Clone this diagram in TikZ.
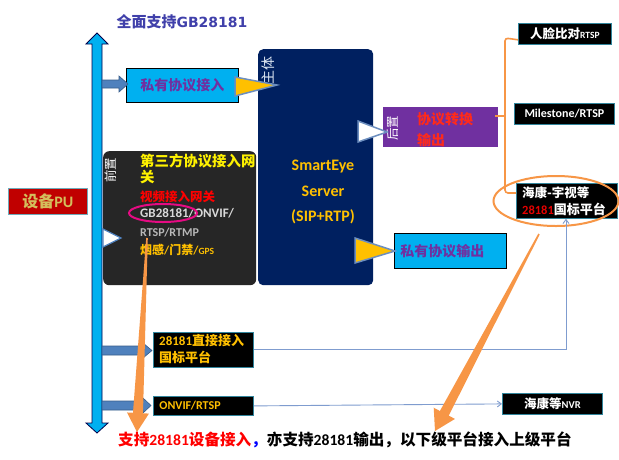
\documentclass[tikz,border=0pt]{standalone}
\usepackage{fontspec}
\setmainfont{Carlito}
\newfontfamily\cjk{Noto Sans CJK SC}
\newfontfamily\dvs{DejaVu Sans}
\usetikzlibrary{calc,arrows.meta}
\newcommand\zh[1]{{\cjk #1}}
\newcommand\fs[1]{\fontsize{#1}{#1}\selectfont}
\definecolor{cyanb}{HTML}{00B0F0}
\definecolor{navyb}{HTML}{002060}
\definecolor{purpb}{HTML}{7030A0}
\definecolor{goldy}{HTML}{FFC000}
\definecolor{dkg}{HTML}{262626}
\definecolor{pured}{HTML}{C00000}
\definecolor{pugold}{HTML}{D4BE5C}
\definecolor{tealb}{HTML}{31859C}
\definecolor{steel}{HTML}{4F81BD}
\definecolor{steeld}{HTML}{385D8A}
\definecolor{orng}{HTML}{F79646}
\definecolor{linec}{HTML}{7F9CCF}
\definecolor{gblue}{HTML}{6C8EBF}
\definecolor{titlec}{HTML}{4040AA}
\definecolor{ltblue}{HTML}{DBE5F1}
\definecolor{redt}{HTML}{FF2A1A}
\definecolor{ltgray}{HTML}{D9D9D9}
\begin{document}
\begin{tikzpicture}[x=1pt,y=-1pt,font=\bfseries,
  cbox/.style={draw=black,line width=0.8,fill=cyanb,anchor=north west,inner sep=0,text=purpb,font=\bfseries\cjk\fs{14}},
  kbox/.style={draw=tealb,line width=0.8,fill=black,anchor=north west,inner sep=0,text=white},
  txt/.style={anchor=west,inner sep=0},
  blk/.style={fill=steel,draw=steeld,line width=0.6},
  tri/.style={draw=gblue,line width=1.5},
  obr/.style={draw=orng,line width=1.6,rounded corners=3},
  thinl/.style={draw=linec,line width=0.9,-{Straight Barb[length=4pt,width=6pt]}},
  vtxt/.style={rotate=90,inner sep=0,font=\cjk}]
\useasboundingbox (0,0) rectangle (619,459);
\fill[white] (0,0) rectangle (619,459);

% title
\node[text=titlec,font=\bfseries\fs{15}] (title) at (182,22) {\zh{全面支持}{\dvs\fs{14}GB28181}};

% big vertical double arrow
\filldraw[fill=cyanb,draw=black!70!blue,line width=0.8]
  (92,44) -- (86,44) -- (97,33) -- (108,44) -- (102,44) -- (102,423) -- (108,423)
  -- (97,433) -- (86,423) -- (92,423) -- cycle;

% device PU
\node[draw=tealb!70,line width=0.6,fill=pured,minimum width=79,minimum height=26,anchor=north west,inner sep=0,text=pugold,font=\bfseries\fs{16}] (pu) at (8,188) {\zh{设备}PU};

% private access
\node[cbox,minimum width=112,minimum height=34] (pin) at (126,68) {私有协议接入};
\filldraw[blk] (102,80) -- (119,80) -- (119,76) -- (128,84) -- (119,92) -- (119,88) -- (102,88) -- cycle;

% server
\node[fill=navyb,rounded corners=5,minimum width=115,minimum height=236,anchor=north west,inner sep=0] (srv) at (258,49) {};
\node[vtxt,text=ltblue,font=\cjk\fs{14}] (zhuti) at (268,70) {主体};
\node[align=center,text=goldy,font=\bfseries\fontsize{16}{25.5}\selectfont] (srvtxt) at (323,192) {SmartEye\\Server\\(SIP+RTP)};
\filldraw[fill=goldy,tri] (235,77) -- (277,85) -- (235,96) -- cycle;

% front box
\node[fill=dkg,rounded corners=6,minimum width=153,minimum height=134,anchor=north west,inner sep=0] (pre) at (103,151) {};
\node[vtxt,text=white,font=\cjk\fs{12.5}] (qianzhi) at (111,170) {前置};
\node[txt,text=yellow,font=\bfseries\cjk\fs{14.4}] (gw1) at (140,161) {第三方协议接入网};
\node[txt,text=yellow,font=\bfseries\cjk\fs{14.4}] (gw2) at (140,177) {关};
\node[txt,text=red,font=\bfseries\cjk\fs{12.5}] (vgw) at (140,197) {视频接入网关};
\node[txt,text=ltgray,font=\bfseries\fs{13}] (gb) at (140,213) {GB28181/ONVIF/};
\node[txt,text=ltgray!85!black,font=\bfseries\fs{12}] (rtsp) at (140,233) {RTSP/RTMP};
\node[txt,text=goldy,font=\bfseries\fs{12}] (smoke) at (140,250) {\zh{烟感}/\zh{门禁}/{\fs{9.5}GPS}};
\draw[draw=magenta!85!purple,line width=2] (163,213) ellipse [x radius=34,y radius=9];
\filldraw[fill=white,draw=steel,line width=1.2] (103,229) -- (121,238) -- (103,247) -- cycle;

% post box
\node[fill=purpb,minimum width=115,minimum height=40,anchor=north west,inner sep=0] (post) at (383,107) {};
\node[vtxt,text=white,font=\cjk\fs{12.5}] (houzhi) at (393,128) {后置};
\node[txt,text=redt,font=\bfseries\cjk\fs{14}] (conv1) at (417,119) {协议转换};
\node[txt,text=redt,font=\bfseries\cjk\fs{14}] (conv2) at (417,140) {输出};
\filldraw[fill=white,tri] (358,121) -- (387,132) -- (358,142) -- cycle;

% private output
\node[cbox,minimum width=112,minimum height=35,text width=100,inner xsep=6,align=left] (pout) at (394,233) {私有协议输出};
\filldraw[fill=goldy,tri] (355,238) -- (395,251) -- (355,263) -- cycle;

% right column
\node[kbox,minimum width=93,minimum height=21,font=\bfseries\fs{12.5}] (face) at (518,23) {\zh{人脸比对}{\fs{9.5}RTSP}};
\node[kbox,minimum width=100,minimum height=21,font=\bfseries\fs{12}] (mile) at (514,103) {Milestone/RTSP};
\node[kbox,minimum width=101,minimum height=35] (hk) at (516,183) {};
\node[txt,text=white,font=\bfseries\cjk\fs{12.5}] (hk1) at (522,193) {海康-宇视等};
\node[txt,text=white,font=\bfseries\fs{13}] (hk2) at (522,209) {\textcolor{red!90!black}{\fs{12.5}28181}\zh{国标平台}};
\draw[draw=orng,line width=2] (556,201) ellipse [x radius=62.5,y radius=25];

% orange bracket
\draw[obr] ($(face.south west)+(0,-5)$) -- (505,38) -- (505,193) -- ($(hk.north west)+(0,10)$);
\draw[obr,rounded corners=0] ($(post.north east)+(-3,9)$) -- (505,116);

% lower boxes
\node[kbox,minimum width=100,minimum height=35] (d28) at (153,332) {};
\node[txt,text=goldy,font=\bfseries\fs{13}] (d28a) at (159,341) {28181\zh{直接接入}};
\node[txt,text=goldy,font=\bfseries\cjk\fs{13}] (d28b) at (159,357) {国标平台};
\node[kbox,minimum width=100,minimum height=19,text width=88,inner xsep=6,align=left,text=goldy,font=\bfseries\fs{12}] (onv) at (153,396) {ONVIF/RTSP};
\node[kbox,minimum width=100,minimum height=21,font=\bfseries\fs{12.5}] (nvr) at (502,393) {\zh{海康等}{\fs{10.5}NVR}};
\filldraw[blk] (102,346) -- (143,346) -- (143,343) -- (152,350.5) -- (143,358) -- (143,355) -- (102,355) -- cycle;
\filldraw[blk] (102,401) -- (143,401) -- (143,398) -- (151,405.5) -- (143,413) -- (143,410) -- (102,410) -- cycle;

% thin connectors
\draw[thinl] (d28.east) -| ($(hk.south west)+(50,0)$);
\draw[thinl] (onv.east) -- (nvr.west);

% orange tapered arrows
\coordinate (s1) at (147,238); \coordinate (t1) at (137,432);
\coordinate (h1) at ($(t1)!19pt!(s1)$);
\fill[orng] ($(s1)!0.8pt!90:(t1)$) -- ($(h1)!5pt!90:(t1)$) -- ($(h1)!11pt!90:(t1)$) -- (t1)
  -- ($(h1)!11pt!-90:(t1)$) -- ($(h1)!5pt!-90:(t1)$) -- ($(s1)!0.8pt!-90:(t1)$) -- cycle;
\coordinate (s2) at (539,234); \coordinate (t2) at (435,431);
\coordinate (h2) at ($(t2)!20pt!(s2)$);
\fill[orng] ($(s2)!0.8pt!90:(t2)$) -- ($(h2)!5pt!90:(t2)$) -- ($(h2)!12pt!90:(t2)$) -- (t2)
  -- ($(h2)!12pt!-90:(t2)$) -- ($(h2)!5pt!-90:(t2)$) -- ($(s2)!0.8pt!-90:(t2)$) -- cycle;

% bottom text
\node[txt,font=\bfseries\fs{15.6}] (bottom) at (118,440) {\textcolor{red}{\zh{支持}28181\zh{设备接入}}\textcolor{blue}{\zh{，}}\zh{亦支持}28181\zh{输出，以下级平台接入上级平台}};
\end{tikzpicture}
\end{document}
